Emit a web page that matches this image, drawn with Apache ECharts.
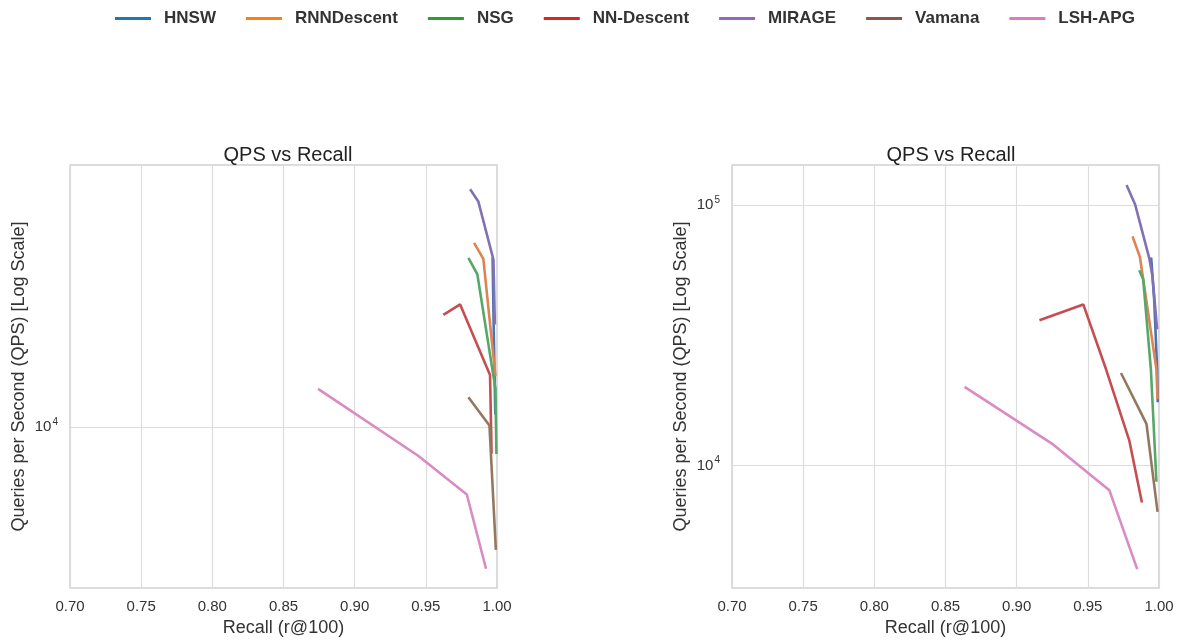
<!DOCTYPE html>
<html>
<head>
<meta charset="utf-8">
<script src="https://cdn.jsdelivr.net/npm/echarts@6/dist/echarts.min.js"></script>
<style>
  html, body { margin: 0; padding: 0; background: #fff; }
  #chart { width: 1183px; height: 642px; }
</style>
</head>
<body>
<div id="chart"></div>
<script>
// Methods shown in the legend, in drawing order
const methods = ['HNSW', 'RNNDescent', 'NSG', 'NN-Descent', 'MIRAGE', 'Vamana', 'LSH-APG'];

// Left panel: [recall, QPS]
const hnswA   = [[0.9969, 36900], [0.9978, 20000], [0.9988, 11000]];
const rnnA    = [[0.9839, 41300], [0.9904, 36500], [0.9989, 14800]];
const nsgA    = [[0.9799, 36800], [0.9862, 32400], [0.9989, 13400], [0.9996, 8100]];
const nndA    = [[0.9623, 23700], [0.9741, 25700], [0.9951, 14900], [0.9962, 8130]];
const mirageA = [[0.9811, 62500], [0.9869, 56800], [0.9975, 36300], [0.9985, 22000]];
const vamanaA = [[0.9799, 12560], [0.9947, 10100], [0.9992, 3870]];
const lshA    = [[0.8743, 13390], [0.9446, 8000], [0.9788, 5930], [0.9923, 3345]];

// Right panel: [recall, QPS]
const hnswB   = [[0.9945, 62800], [0.9966, 43400], [0.9987, 23400], [0.9991, 17500]];
const rnnB    = [[0.9814, 75700], [0.9866, 63100], [0.9982, 23400], [0.9989, 18000]];
const nsgB    = [[0.9861, 56100], [0.9889, 51800], [0.9943, 23400], [0.9982, 8670]];
const nndB    = [[0.9160, 36100], [0.9468, 41500], [0.9628, 23400], [0.9791, 12500], [0.9880, 7225]];
const mirageB = [[0.9772, 119200], [0.9833, 100000], [0.9931, 62600], [0.9954, 53200], [0.9987, 33300]];
const vamanaB = [[0.9733, 22650], [0.9912, 14450], [0.9990, 6650]];
const lshB    = [[0.8634, 20030], [0.9258, 12030], [0.9651, 8050], [0.9847, 4010]];

const panelA = [hnswA, rnnA, nsgA, nndA, mirageA, vamanaA, lshA];
const panelB = [hnswB, rnnB, nsgB, nndB, mirageB, vamanaB, lshB];

// Axis ranges
const recallMin = 0.70, recallMax = 1.00, recallStep = 0.05;
const qpsRangeA = [2884, 75300];
const qpsRangeB = [3393, 142100];

// Palettes: lines inside the panels, and the legend swatches
const lineColors   = ['#4c72b0', '#dd8452', '#55a868', '#c44e52', '#8172b3', '#937860', '#da8bc3'];
const legendColors = ['#1f77b4', '#ff7f0e', '#2ca02c', '#d62728', '#9467bd', '#8c564b', '#e377c2'];

const FONT = '"Liberation Sans", Arial, sans-serif';
const chart = echarts.init(document.getElementById('chart'));

function xAxisFor(gridIndex) {
  return {
    type: 'value', gridIndex, min: recallMin, max: recallMax, interval: recallStep,
    name: 'Recall (r@100)', nameLocation: 'middle', nameGap: 31,
    nameTextStyle: { fontFamily: FONT, fontSize: 18, color: '#333' },
    axisLine: { show: false }, axisTick: { show: false },
    axisLabel: { fontFamily: FONT, fontSize: 15, color: '#333', margin: 11,
                 formatter: v => v.toFixed(2) },
    splitLine: { show: true, lineStyle: { color: '#dcdcdc', width: 1.2 } }
  };
}

function yAxisFor(gridIndex, range) {
  return {
    type: 'log', logBase: 10, gridIndex, min: range[0], max: range[1],
    name: 'Queries per Second (QPS) [Log Scale]', nameLocation: 'middle', nameGap: 42,
    nameTextStyle: { fontFamily: FONT, fontSize: 18, color: '#333' },
    axisLine: { show: false }, axisTick: { show: false }, minorTick: { show: false },
    axisLabel: {
      fontFamily: FONT, color: '#333', margin: 12,
      formatter: v => {
        const e = Math.log10(v);
        if (Math.abs(e - Math.round(e)) > 1e-6) return '';
        return '{b|10}{s|' + Math.round(e) + '}';
      },
      rich: {
        b: { fontFamily: FONT, fontSize: 15, color: '#333' },
        s: { fontFamily: FONT, fontSize: 10, color: '#333', verticalAlign: 'top', padding: [0, 0, 10, 1] }
      }
    },
    splitLine: { show: true, lineStyle: { color: '#dcdcdc', width: 1.2 } }
  };
}

const series = [];
[panelA, panelB].forEach((panel, p) => {
  panel.forEach((data, i) => {
    series.push({
      name: methods[i], type: 'line', xAxisIndex: p, yAxisIndex: p,
      data, showSymbol: false, symbol: 'none', animation: false,
      color: lineColors[i],
      lineStyle: { color: lineColors[i], width: 2.6 },
      z: 2 + i
    });
  });
});

chart.setOption({
  backgroundColor: '#fff',
  animation: false,
  title: [
    { text: 'QPS vs Recall', left: 283, top: 140, textAlign: 'center',
      textStyle: { fontFamily: FONT, fontSize: 20, fontWeight: 'normal', color: '#222' } },
    { text: 'QPS vs Recall', left: 946, top: 140, textAlign: 'center',
      textStyle: { fontFamily: FONT, fontSize: 20, fontWeight: 'normal', color: '#222' } }
  ],
  legend: {
    top: 5, left: 110, itemWidth: 36, itemHeight: 14, itemGap: 30,
    icon: 'path://M0,6 L36,6 L36,9 L0,9 Z',
    textStyle: { fontFamily: FONT, fontSize: 17, fontWeight: 'bold', color: '#333', padding: [0, 0, 0, 8] },
    data: methods.map((m, i) => ({ name: m, itemStyle: { color: legendColors[i] } }))
  },
  grid: [
    { left: 70, top: 165, width: 427, height: 425, show: true, borderColor: '#cfcfcf', borderWidth: 1.5, containLabel: false },
    { left: 732, top: 165, width: 427, height: 425, show: true, borderColor: '#cfcfcf', borderWidth: 1.5, containLabel: false }
  ],
  xAxis: [xAxisFor(0), xAxisFor(1)],
  yAxis: [yAxisFor(0, qpsRangeA), yAxisFor(1, qpsRangeB)],
  series
});
</script>
</body>
</html>
